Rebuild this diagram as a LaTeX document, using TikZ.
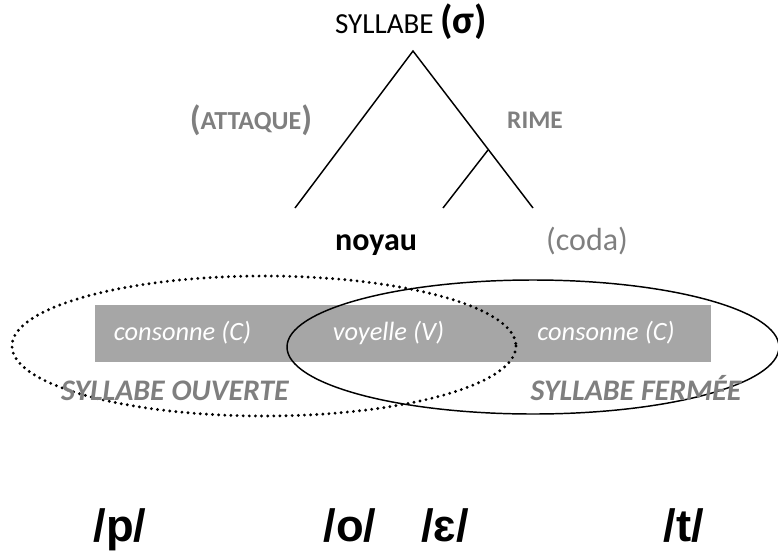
\documentclass[tikz,border=0pt]{standalone}
\usepackage{fontspec}
\setmainfont{Carlito}
\newfontfamily\arialfont{Liberation Sans}
\definecolor{lbl}{HTML}{7F7F7F}
\definecolor{boxg}{HTML}{A6A6A6}
\tikzset{
  treeline/.style={draw=black, line width=1.1pt},
  graylbl/.style={text=lbl, font=\bfseries, inner sep=0pt},
  boxtxt/.style={text=white, font=\fontsize{19.8}{23}\selectfont\itshape, inner sep=0pt},
  sylltxt/.style={text=lbl, font=\fontsize{22.4}{26}\selectfont\bfseries\itshape, inner sep=0pt, anchor=base},
  phon/.style={text=black, font=\arialfont\fontsize{34}{38}\selectfont\bfseries, inner sep=0pt, anchor=base},
}
\begin{document}
\begin{tikzpicture}[x=0.75pt,y=-0.75pt]
\useasboundingbox (0,0) rectangle (778,554);
% title
\node[inner sep=0pt, anchor=base] (title) at (411,33) {\fontsize{21.8}{26}\selectfont SYLLABE \fontsize{30}{34}\selectfont\bfseries(σ)};
% tree
\coordinate (apex) at (413,51);
\coordinate (lb) at (295,208);
\coordinate (rb) at (533,208);
\coordinate (br) at (488,150);
\coordinate (bb) at (443,208);
\draw[treeline] (lb) -- (apex) -- (rb);
\draw[treeline] (br) -- (bb);
\node[graylbl] (attaque) at (251,120) {\fontsize{26}{30}\selectfont(\raisebox{0.9pt}{\fontsize{19.5}{22}\selectfont ATTAQUE})};
\node[graylbl] (rime) at (535,120) {\fontsize{19}{22}\selectfont RIME};
\node[inner sep=0pt, anchor=base, font=\fontsize{24}{28}\selectfont\bfseries] (noyau) at (376,250) {noyau};
\node[inner sep=0pt, anchor=base, text=lbl, font=\fontsize{24}{28}\selectfont] (coda) at (587,250) {(coda)};
% band
\fill[boxg] (95,305) rectangle (711,362);
\node[boxtxt] (c1) at (182.5,333) {consonne (C)};
\node[boxtxt] (v) at (388.5,333) {voyelle (V)};
\node[boxtxt] (c2) at (606,333) {consonne (C)};
% ellipses
\draw[line width=1.1pt] (533,347) ellipse [x radius=246, y radius=67];
\draw[line width=2.4pt, line cap=round, dash pattern=on 0pt off 4.6pt] (264,346) ellipse [x radius=252, y radius=70];
\node[sylltxt] (ouv) at (175,400) {SYLLABE OUVERTE};
\node[sylltxt] (fer) at (636,400) {SYLLABE FERMÉE};
% phonemes
\node[phon] (p) at (120,541) {/p/};
\node[phon] (o) at (350,541) {/o/};
\node[phon] (e) at (445,541) {/ɛ/};
\node[phon] (t) at (684,541) {/t/};
\end{tikzpicture}
\end{document}
